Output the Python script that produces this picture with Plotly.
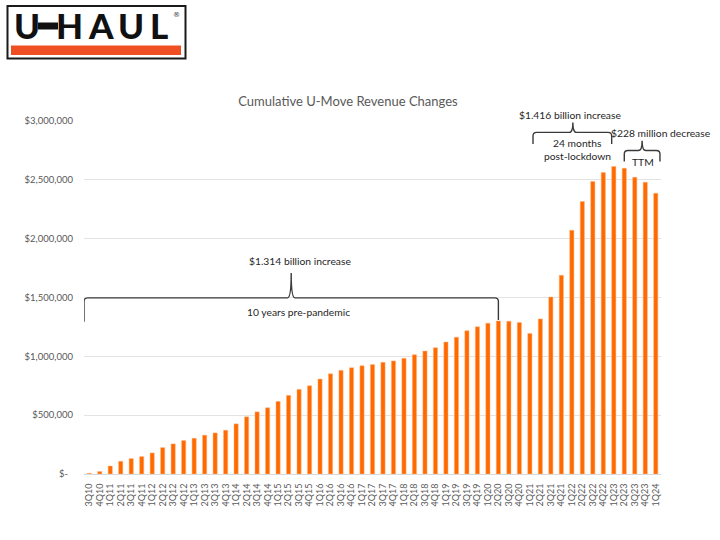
import plotly.graph_objects as go

# ---------------- data ----------------
quarters = ["3Q10", "4Q10",
            "1Q11", "2Q11", "3Q11", "4Q11",
            "1Q12", "2Q12", "3Q12", "4Q12",
            "1Q13", "2Q13", "3Q13", "4Q13",
            "1Q14", "2Q14", "3Q14", "4Q14",
            "1Q15", "2Q15", "3Q15", "4Q15",
            "1Q16", "2Q16", "3Q16", "4Q16",
            "1Q17", "2Q17", "3Q17", "4Q17",
            "1Q18", "2Q18", "3Q18", "4Q18",
            "1Q19", "2Q19", "3Q19", "4Q19",
            "1Q20", "2Q20", "3Q20", "4Q20",
            "1Q21", "2Q21", "3Q21", "4Q21",
            "1Q22", "2Q22", "3Q22", "4Q22",
            "1Q23", "2Q23", "3Q23", "4Q23",
            "1Q24"]

cumulative_revenue_change = [
    6000, 21000,
    68000, 108000, 131000, 148000,
    179000, 224000, 256000, 284000,
    304000, 330000, 349000, 372000,
    426000, 486000, 528000, 563000,
    617000, 668000, 719000, 750000,
    807000, 852000, 881000, 903000,
    920000, 930000, 949000, 961000,
    983000, 1014000, 1045000, 1073000,
    1121000, 1163000, 1217000, 1251000,
    1282000, 1301000, 1299000, 1287000,
    1194000, 1318000, 1504000, 1689000,
    2071000, 2316000, 2486000, 2562000,
    2614000, 2598000, 2522000, 2480000,
    2386000]

y_tick_values = [0, 500000, 1000000, 1500000, 2000000, 2500000, 3000000]
y_tick_labels = ["$-\u00a0\u00a0", "$500,000", "$1,000,000", "$1,500,000",
                 "$2,000,000", "$2,500,000", "$3,000,000"]

title_text = "Cumulative U-Move Revenue Changes"

# brackets: (x_left, x_right, x_tip, y_bottom_left, y_bottom_right, y_horizontal, y_tip)
bracket_pre = (-0.5, 39.0, 19.25, 1293000, 1308000, 1497000, 1708000)
bracket_post = (42.3, 49.8, 46.1, 2805000, 2805000, 2903000, 2988000)
bracket_ttm = (51.0, 54.4, 52.7, 2655000, 2655000, 2749000, 2833000)

# ---------------- figure ----------------
x_idx = list(range(len(quarters)))

fig = go.Figure()
fig.add_trace(go.Bar(
    x=x_idx, y=cumulative_revenue_change,
    marker=dict(color="#FF6A00", line=dict(color="#FFB27A", width=0.5)),
    width=0.4,
    hoverinfo="skip",
))

W, H = 720, 540
L, R, T, B = 84, 59, 121, 66
PW, PH = W - L - R, H - T - B


def px(x):
    return (x - L) / PW


def py(y):
    return (H - B - y) / PH


def brace_path(b):
    xl, xr, xc, ybl, ybr, yh, yt = b
    rx, ry = 0.35, 30000
    return (f"M {xl},{ybl} L {xl},{yh - ry} Q {xl},{yh} {xl + rx},{yh} "
            f"L {xc - rx},{yh} Q {xc},{yh} {xc},{yt} "
            f"Q {xc},{yh} {xc + rx},{yh} "
            f"L {xr - rx},{yh} Q {xr},{yh} {xr},{yh - ry} L {xr},{ybr}")


shapes = []
for b in (bracket_pre, bracket_post, bracket_ttm):
    shapes.append(dict(type="path", xref="x", yref="y", path=brace_path(b),
                       line=dict(color="#3A3A3A", width=1.4), layer="above"))

# U-HAUL logo (decoration)
shapes.append(dict(type="rect", xref="paper", yref="paper",
                   x0=px(7.5), x1=px(185.5), y0=py(58.5), y1=py(6),
                   line=dict(color="#1A1A1A", width=2), fillcolor="white"))
shapes.append(dict(type="rect", xref="paper", yref="paper",
                   x0=px(11), x1=px(181), y0=py(55), y1=py(45.5),
                   line=dict(width=0), fillcolor="#F04E23"))
shapes.append(dict(type="rect", xref="paper", yref="paper",
                   x0=px(38), x1=px(58), y0=py(29.5), y1=py(22.5),
                   line=dict(width=0), fillcolor="#111111"))

ann_font = dict(family="Lato, Open Sans, sans-serif", size=10.3, color="#262626")
annotations = [
    dict(x=20.1, y=1810000, xref="x", yref="y", text="$1.314 billion increase",
         showarrow=False, font=ann_font),
    dict(x=19.9, y=1378000, xref="x", yref="y", text="10 years pre-pandemic",
         showarrow=False, font=ann_font),
    dict(x=45.8, y=py(115), xref="x", yref="paper", text="$1.416 billion increase",
         showarrow=False, font=ann_font, yanchor="middle"),
    dict(x=46.5, y=2810000, xref="x", yref="y", text="24 months",
         showarrow=False, font=ann_font),
    dict(x=46.5, y=2706000, xref="x", yref="y", text="post-lockdown",
         showarrow=False, font=ann_font),
    dict(x=54.5, y=2898000, xref="x", yref="y", text="$228 million decrease",
         showarrow=False, font=ann_font),
    dict(x=52.75, y=2652000, xref="x", yref="y", text="TTM",
         showarrow=False, font=ann_font),
]

logo_letters = [("U", 27.5), ("H", 69.5), ("A", 100.5), ("U", 130.5), ("L", 158.5)]
for ch, cx in logo_letters:
    annotations.append(dict(x=px(cx), y=py(25.5), xref="paper", yref="paper",
                            xanchor="center", yanchor="middle",
                            text=ch, showarrow=False,
                            font=dict(family="Lato", size=35, weight=900,
                                      color="#111111")))
annotations.append(dict(x=px(176), y=py(15), xref="paper", yref="paper",
                        xanchor="center", yanchor="middle", text="®", showarrow=False,
                        font=dict(family="DejaVu Sans", size=7, color="#333333")))

fig.update_layout(
    width=W, height=H, autosize=False,
    margin=dict(l=L, r=R, t=T, b=B, pad=0),
    paper_bgcolor="white", plot_bgcolor="white",
    showlegend=False,
    title=dict(text=title_text, x=348 / W, xanchor="center", y=1 - 101 / H,
               yanchor="middle",
               font=dict(family="Lato, Open Sans, sans-serif", size=13, color="#595959")),
    xaxis=dict(
        range=[-0.5, len(quarters) - 0.5],
        tickmode="array", tickvals=x_idx, ticktext=quarters,
        tickangle=-90, tickfont=dict(family="Lato, Open Sans, sans-serif", size=9, color="#595959"),
        showgrid=False, zeroline=False, showline=True, linecolor="#D9D9D9", linewidth=1,
        ticks="", ticklabelstandoff=5,
    ),
    yaxis=dict(
        range=[0, 3000000],
        tickmode="array", tickvals=y_tick_values, ticktext=y_tick_labels,
        tickfont=dict(family="Lato, Open Sans, sans-serif", size=9.5, color="#595959"),
        showgrid=True, gridcolor="#E3E3E3", gridwidth=1,
        zeroline=False, showline=False, ticks="", ticklabelstandoff=10,
    ),
    shapes=shapes,
    annotations=annotations,
    bargap=0.5,
)

fig.write_html("out.html")
